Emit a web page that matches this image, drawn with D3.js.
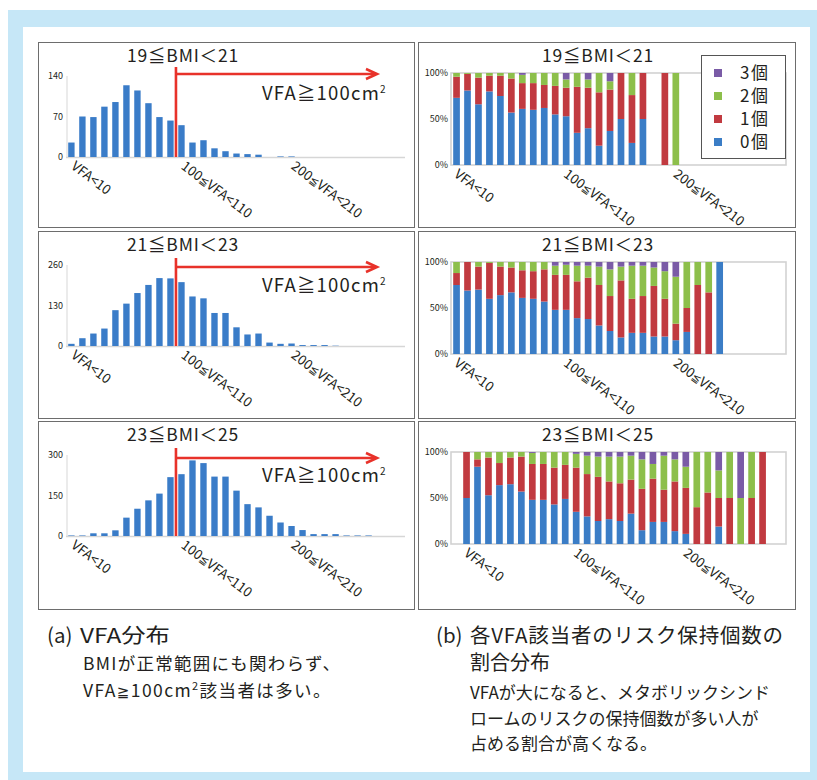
<!DOCTYPE html>
<html>
<head>
<meta charset="utf-8">
<script src="https://cdn.jsdelivr.net/npm/d3@7"></script>
<style>
  body { margin: 0; background: #fff; }
  svg { display: block; }
  text { font-family: "Noto Sans CJK JP", "Noto Sans", sans-serif; fill: #231f20; }
</style>
</head>
<body>
<svg id="chart" width="817" height="780"></svg>
<script>
// VFA bins (cm²), 10 cm² wide
const vfaBins = [
  "VFA<10", "10≦VFA<20", "20≦VFA<30", "30≦VFA<40", "40≦VFA<50",
  "50≦VFA<60", "60≦VFA<70", "70≦VFA<80", "80≦VFA<90", "90≦VFA<100",
  "100≦VFA<110", "110≦VFA<120", "120≦VFA<130", "130≦VFA<140", "140≦VFA<150",
  "150≦VFA<160", "160≦VFA<170", "170≦VFA<180", "180≦VFA<190", "190≦VFA<200",
  "200≦VFA<210", "210≦VFA<220", "220≦VFA<230", "230≦VFA<240", "240≦VFA<250",
  "250≦VFA<260", "260≦VFA<270", "270≦VFA<280", "280≦VFA<290", "290≦VFA<300",
  "300≦VFA<310"
];
const axisLabelBins = ["VFA<10", "100≦VFA<110", "200≦VFA<210"];
const bmiGroups = ["19≦BMI＜21", "21≦BMI＜23", "23≦BMI＜25"];
const riskKeys = ["0個", "1個", "2個", "3個"];
const riskColors = ["#3b7dc6", "#c13a40", "#8dbf4b", "#7a5ba6"];

// (a) number of people per VFA bin
const countBmi19to21 = [25, 70, 69, 87, 95, 124, 115, 93, 69, 63, 55, 25, 29, 15, 10, 6, 5, 4, 0, 1, 1, 0, 0, 0, 0, 0, 0, 0, 0, 0, 0];
const countBmi21to23 = [7, 25, 40, 56, 115, 136, 170, 196, 218, 217, 205, 159, 153, 106, 106, 60, 37, 40, 11, 7, 8, 3, 3, 3, 1, 0, 0, 0, 0, 0, 0];
const countBmi23to25 = [2, 2, 10, 10, 21, 68, 101, 132, 157, 218, 229, 280, 270, 220, 220, 168, 118, 106, 75, 50, 37, 22, 7, 7, 7, 2, 2, 2, 0, 0, 0];
const countTicks = [[0, 70, 140], [0, 130, 260], [0, 150, 300]];

// (b) share (%) of people by number of risk factors held, per VFA bin
const share19to21_0 = [73, 81, 66, 80, 75, 57, 61, 60, 62, 55, 53, 35, 40, 21, 37, 50, 24, 50, null, 0, 0];
const share19to21_1 = [23, 18, 29, 17, 22, 37, 28, 29, 25, 31, 31, 50, 44, 58, 45, 50, 52, 50, null, 100, 0];
const share19to21_2 = [4, 1, 5, 3, 3, 6, 9, 11, 13, 14, 9, 15, 9, 21, 9, 0, 24, 0, null, 0, 100];
const share19to21_3 = [0, 0, 0, 0, 0, 0, 2, 0, 0, 0, 7, 0, 7, 0, 9, 0, 0, 0, null, 0, 0];

const share21to23_0 = [75, 69, 70, 60, 64, 67, 61, 60, 57, 48, 48, 39, 38, 31, 25, 18, 23, 23, 19, 19, 15, 24, 0, 0, 100];
const share21to23_1 = [13, 31, 25, 39, 31, 27, 30, 30, 35, 38, 38, 40, 45, 44, 38, 62, 37, 40, 55, 41, 18, 26, 75, 67, 0];
const share21to23_2 = [12, 0, 5, 1, 5, 6, 9, 10, 8, 10, 11, 17, 13, 20, 29, 15, 36, 33, 20, 30, 51, 50, 25, 33, 0];
const share21to23_3 = [0, 0, 0, 0, 0, 0, 0, 0, 0, 4, 3, 4, 4, 5, 8, 5, 4, 4, 6, 10, 16, 0, 0, 0, 0];

const share23to25_0 = [50, 84, 53, 64, 65, 57, 48, 48, 43, 49, 35, 30, 25, 27, 25, 33, 15, 24, 24, 14, 11, 0, 0, 19, 0, 0, 0, 0];
const share23to25_1 = [50, 8, 41, 24, 29, 38, 39, 39, 40, 37, 48, 46, 48, 41, 41, 37, 45, 47, 35, 54, 50, 40, 56, 31, 50, 0, 50, 100];
const share23to25_2 = [0, 8, 6, 12, 6, 5, 12, 13, 17, 14, 15, 20, 22, 27, 29, 26, 32, 16, 37, 24, 23, 60, 44, 30, 50, 50, 50, 0];
const share23to25_3 = [0, 0, 0, 0, 0, 0, 1, 0, 0, 0, 2, 4, 5, 5, 5, 4, 8, 13, 4, 8, 16, 0, 0, 20, 0, 50, 0, 0];
const shareTicks = [0, 50, 100];

const counts = [countBmi19to21, countBmi21to23, countBmi23to25];
const shares = [
  [share19to21_0, share19to21_1, share19to21_2, share19to21_3],
  [share21to23_0, share21to23_1, share21to23_2, share21to23_3],
  [share23to25_0, share23to25_1, share23to25_2, share23to25_3]
];

const captionB = ["VFAが大になると、メタボリックシンド", "ロームのリスクの保持個数が多い人が", "占める割合が高くなる。"];

// ---------- drawing ----------
const svg = d3.select("#chart");

// page background
svg.append("rect").attr("x", 8).attr("y", 10).attr("width", 809).attr("height", 770).attr("fill", "#c6e7f7");
svg.append("rect").attr("x", 23).attr("y", 27).attr("width", 787).attr("height", 745).attr("fill", "#fff");

const rowTops = [42, 231, 421];
const rowHeights = [185, 187, 188];
const arrowDy = [32, 36, 37];
const lineTopDy = [25, 27, 27];
const labelDy = [58, 61, 61];
const shareShift = [0, 0, 10];
const red = "#e8322a";

// rotated category labels; the "≦" sign is set narrow like the rest of the label
function xLabels(g, x, baseY, dx) {
  axisLabelBins.forEach(b => {
    const px = x(b) + dx, py = baseY + 11;
    const t = g.append("text")
      .attr("x", px).attr("y", py)
      .attr("transform", `rotate(37,${px},${py})`)
      .attr("font-size", 13.5)
      .attr("fill", "#1a1a1a");
    b.split("≦").forEach((part, k) => {
      if (k > 0) t.append("tspan").attr("font-family", '"DejaVu Sans", sans-serif').attr("font-size", 11).text("≦");
      t.append("tspan").text(part);
    });
  });
}

rowTops.forEach((top, i) => {
  // ---- (a) histogram panel ----
  const gL = svg.append("g");
  gL.append("rect").attr("x", 38.5).attr("y", top + 0.5).attr("width", 376).attr("height", rowHeights[i])
    .attr("fill", "#fff").attr("stroke", "#6d6d6d").attr("stroke-width", 1);

  const xL = d3.scaleBand().domain(vfaBins).range([66, 407]).paddingInner(0.42).paddingOuter(0.2);
  const yL = d3.scaleLinear().domain([0, countTicks[i][2]]).range([top + 115, top + 34]);

  gL.append("line").attr("x1", 67).attr("x2", 67).attr("y1", yL(countTicks[i][2])).attr("y2", yL(0))
    .attr("stroke", "#e4e4e4").attr("stroke-width", 1.5);
  gL.append("line").attr("x1", 66).attr("x2", 405).attr("y1", yL(0) + 0.5).attr("y2", yL(0) + 0.5)
    .attr("stroke", "#d6d6d6").attr("stroke-width", 1.5);

  gL.selectAll("rect.bar").data(counts[i]).join("rect")
    .attr("class", "bar")
    .attr("x", (d, j) => xL(vfaBins[j]))
    .attr("width", xL.bandwidth())
    .attr("y", d => yL(d))
    .attr("height", d => yL(0) - yL(d))
    .attr("fill", "#3a7cc8");

  const yAxisL = gL.append("g").attr("transform", "translate(63,0)")
    .call(d3.axisLeft(yL).tickValues(countTicks[i]).tickSize(0).tickPadding(0));
  yAxisL.select(".domain").remove();
  yAxisL.selectAll("text").attr("font-size", 9).attr("font-family", '"Noto Sans CJK JP", sans-serif').attr("fill", "#333");

  xLabels(gL, xL, yL(0), 2);

  gL.append("text").attr("x", 183).attr("y", top + 20).attr("text-anchor", "middle")
    .attr("font-size", 17.5).attr("letter-spacing", 0.8).text(bmiGroups[i]);

  // VFA ≥ 100 marker and arrow
  const cut = xL(vfaBins[10]) - xL.step() * xL.paddingInner() / 2;
  const ay = top + arrowDy[i];
  gL.append("line").attr("x1", cut).attr("x2", cut).attr("y1", top + lineTopDy[i]).attr("y2", yL(0))
    .attr("stroke", red).attr("stroke-width", 2.6);
  gL.append("line").attr("x1", cut).attr("x2", 376).attr("y1", ay).attr("y2", ay)
    .attr("stroke", red).attr("stroke-width", 2.6);
  gL.append("polyline").attr("points", `${366},${ay - 5} ${377},${ay} ${366},${ay + 5}`)
    .attr("fill", "none").attr("stroke", red).attr("stroke-width", 2.6).attr("stroke-linejoin", "miter");

  const vt = gL.append("text").attr("x", 262).attr("y", top + labelDy[i]).attr("font-size", 18.5)
    .attr("letter-spacing", 1.2);
  vt.append("tspan").text("VFA≧100cm");
  vt.append("tspan").attr("font-size", 10).attr("dy", -7).text("2");

  // ---- (b) stacked share panel ----
  const gR = svg.append("g");
  gR.append("rect").attr("x", 418.5).attr("y", top + 0.5).attr("width", 377).attr("height", rowHeights[i])
    .attr("fill", "#fff").attr("stroke", "#6d6d6d").attr("stroke-width", 1);

  const s = shareShift[i];
  const xR = d3.scaleBand().domain(vfaBins).range([451 + s, 451 + s + 340]).paddingInner(0.39).paddingOuter(0.2);
  const yR = d3.scaleLinear().domain([0, 100]).range([top + 123, top + 31]);

  gR.append("rect").attr("x", 451).attr("y", yR(100)).attr("width", 335).attr("height", yR(0) - yR(100))
    .attr("fill", "none").attr("stroke", "#d2d2d2").attr("stroke-width", 1.6);

  const rows = shares[i][0].map((v, j) => {
    const r = { bin: vfaBins[j], empty: v === null };
    riskKeys.forEach((k, m) => { r[k] = shares[i][m][j] || 0; });
    return r;
  }).filter(r => !r.empty);
  const stacked = d3.stack().keys(riskKeys)(rows);

  gR.selectAll("g.layer").data(stacked).join("g")
    .attr("class", "layer")
    .attr("fill", (d, m) => riskColors[m])
    .selectAll("rect").data(d => d).join("rect")
    .attr("x", d => xR(d.data.bin))
    .attr("width", xR.bandwidth())
    .attr("y", d => yR(d[1]))
    .attr("height", d => yR(d[0]) - yR(d[1]));

  const yAxisR = gR.append("g").attr("transform", "translate(448,0)")
    .call(d3.axisLeft(yR).tickValues(shareTicks).tickFormat(d => d + "%").tickSize(0).tickPadding(0));
  yAxisR.select(".domain").remove();
  yAxisR.selectAll("text").attr("font-size", 9).attr("font-family", '"Noto Sans CJK JP", sans-serif').attr("fill", "#333");

  xLabels(gR, xR, yR(0), 0);

  gR.append("text").attr("x", 598).attr("y", top + 20).attr("text-anchor", "middle")
    .attr("font-size", 17.5).attr("letter-spacing", 0.8).text(bmiGroups[i]);

  if (i === 0) {
    const lg = gR.append("g");
    lg.append("rect").attr("x", 701.5).attr("y", 55.5).attr("width", 84).attr("height", 103)
      .attr("fill", "#fff").attr("stroke", "#555").attr("stroke-width", 1);
    const legendOrder = [3, 2, 1, 0];
    legendOrder.forEach((m, n) => {
      const cy = 73 + n * 23;
      lg.append("rect").attr("x", 714).attr("y", cy - 4).attr("width", 8).attr("height", 8).attr("fill", riskColors[m]);
      lg.append("text").attr("x", 740).attr("y", cy + 6).attr("font-size", 17).attr("letter-spacing", 1.5).text(riskKeys[m]);
    });
  }
});

// ---- captions ----
const cap = svg.append("g");
cap.append("text").attr("x", 47).attr("y", 643).attr("font-size", 20.5).text("(a)");
cap.append("text").attr("x", 80).attr("y", 643).attr("font-size", 20.5)
  .attr("textLength", 90).attr("lengthAdjust", "spacingAndGlyphs").text("VFA分布");
cap.append("text").attr("x", 83).attr("y", 670).attr("font-size", 17.5)
  .attr("textLength", 257).attr("lengthAdjust", "spacing").text("BMIが正常範囲にも関わらず、");
const capA2 = cap.append("text").attr("x", 83).attr("y", 697).attr("font-size", 17.5).attr("letter-spacing", 1.4);
capA2.append("tspan").text("VFA");
capA2.append("tspan").attr("font-family", '"DejaVu Sans", sans-serif').attr("font-size", 15).text("≧");
capA2.append("tspan").text("100cm");
capA2.append("tspan").attr("font-size", 11).attr("dy", -7).text("2");
capA2.append("tspan").attr("dy", 7).text("該当者は多い。");

cap.append("text").attr("x", 436).attr("y", 643).attr("font-size", 20.5).text("(b)");
cap.append("text").attr("x", 470).attr("y", 643).attr("font-size", 20.5)
  .attr("textLength", 313).attr("lengthAdjust", "spacing").text("各VFA該当者のリスク保持個数の");
cap.append("text").attr("x", 470).attr("y", 670).attr("font-size", 20).text("割合分布");
captionB.forEach((t, n) => cap.append("text").attr("x", 470).attr("y", 699 + n * 25.5).attr("font-size", 17).text(t));
</script>
</body>
</html>
